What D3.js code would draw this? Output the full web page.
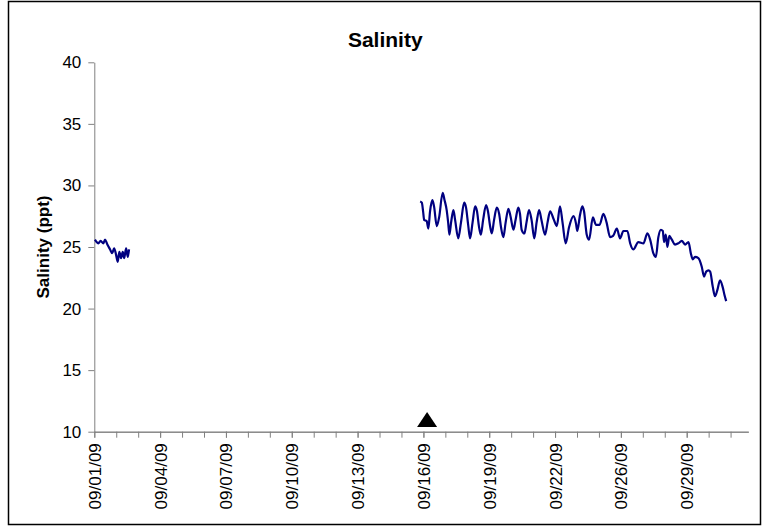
<!DOCTYPE html>
<html lang="en">
<head>
  <meta charset="UTF-8">
  <title>Salinity</title>
  <style>
    body { margin: 0; background: #fff; }
    svg { display: block; font-family: "Liberation Sans", Arial, sans-serif; }
    .axis path, .axis line { stroke: #808080; }
    .axis text { fill: #000; font-size: 17px; }
  </style>
</head>
<body>
  <div id="chart"></div>

  <script src="https://d3js.org/d3.v7.min.js"></script>
  <script>

    // days since 09/01/09 00:00, salinity in ppt
    const firstDays = [0.03, 0.11, 0.19, 0.30, 0.43, 0.51, 0.62, 0.75, 0.85, 0.94, 1.03, 1.11, 1.19, 1.27, 1.35, 1.42, 1.51, 1.59, 1.65];
    const firstSal  = [25.6, 25.4, 25.3, 25.5, 25.3, 25.6, 25.2, 24.8, 24.5, 24.9, 24.4, 23.8, 24.6, 24.1, 24.6, 24.1, 24.9, 24.2, 24.8];

    const secondDays = [
      15.47, 15.55, 15.61, 15.66, 15.78, 15.86, 15.94, 16.05, 16.13, 16.26,
      16.37, 16.54, 16.63, 16.73, 16.80, 16.86, 16.94, 17.05, 17.13, 17.28,
      17.41, 17.56, 17.65, 17.75, 17.84, 17.96, 18.08, 18.17, 18.26, 18.35,
      18.46, 18.60, 18.69, 18.79, 18.87, 18.98, 19.11, 19.22, 19.31, 19.42,
      19.53, 19.66, 19.76, 19.90, 20.00, 20.13, 20.21, 20.29, 20.42, 20.52,
      20.64, 20.76, 20.89, 21.00, 21.12, 21.23, 21.40, 21.52, 21.64, 21.80,
      21.96, 22.11, 22.23, 22.38, 22.54, 22.75, 22.87, 22.93, 23.06, 23.17,
      23.25, 23.38, 23.49, 23.67, 23.82, 23.99, 24.17, 24.32, 24.49, 24.63,
      24.81, 24.96, 25.12, 25.20, 25.31, 25.44, 25.59, 25.83, 26.07, 26.26,
      26.39, 26.54, 26.66, 26.78, 26.90, 26.99, 27.05, 27.13, 27.21, 27.30,
      27.42, 27.57, 27.73, 27.89, 28.05, 28.21, 28.32, 28.41, 28.52, 28.68,
      28.84, 28.95, 29.05, 29.16, 29.24, 29.36, 29.47, 29.58, 29.71, 29.84,
      29.92, 30.00
    ];
    const secondSal = [
      28.7, 28.6, 27.9, 27.2, 27.1, 26.5, 27.9, 28.8, 28.3, 26.7,
      27.4, 29.4, 28.8, 28.0, 27.0, 26.0, 27.0, 28.0, 27.2, 25.7,
      27.0, 28.6, 28.2, 26.8, 25.7, 27.0, 28.3, 27.9, 26.7, 26.0,
      27.2, 28.4, 27.9, 26.7, 26.1, 27.2, 28.2, 27.7, 26.6, 25.8,
      27.0, 28.1, 27.5, 26.4, 27.2, 28.2, 27.7, 26.4, 26.1, 27.0,
      28.0, 27.2, 25.7, 27.0, 28.0, 27.2, 26.0, 27.0, 27.9, 27.3,
      26.7, 28.3, 27.0, 25.3, 26.6, 27.5, 26.9, 26.3, 27.6, 28.3,
      27.9, 26.0, 25.6, 27.4, 26.8, 26.8, 27.7, 27.0, 25.8, 25.9,
      26.5, 25.7, 26.3, 26.3, 26.3, 25.3, 24.8, 25.4, 25.3, 26.1,
      25.6, 24.5, 24.2, 25.8, 26.4, 26.3, 25.4, 26.0, 25.0, 25.9,
      25.6, 25.2, 25.3, 25.5, 25.2, 25.4, 24.5, 24.0, 24.2, 24.1,
      23.4, 22.6, 23.0, 23.1, 23.0, 21.8, 21.0, 21.5, 22.3, 21.7,
      21.1, 20.6
    ];

    // x axis: major unit 3.125 days, 3 minor per major
    const majorUnit = 3.125;
    const tickLabels = ["09/01/09", "09/04/09", "09/07/09", "09/10/09", "09/13/09",
                        "09/16/09", "09/19/09", "09/22/09", "09/26/09", "09/29/09"];
    const yTicks = [10, 15, 20, 25, 30, 35, 40];

    // triangle marker near the axis
    const markerDays = [15.8];
    const markerSal  = [11.0];

    const width = 767,
          height = 527;

    const svg = d3.select("#chart")
      .append("svg")
      .attr("width", width)
      .attr("height", height);

    // chart frame
    svg.append("rect")
      .attr("x", 8.5).attr("y", 1.5)
      .attr("width", 752).attr("height", 523)
      .attr("fill", "#fff")
      .attr("stroke", "#000")
      .attr("stroke-width", 1.5);

    const x = d3.scaleLinear([0, 31.05], [94.3, 748.3]);
    const y = d3.scaleLinear([10, 40], [431.7, 62.3]);

    // minor ticks
    const minorVals = d3.range(0, 31.05, majorUnit / 3);
    svg.append("g")
      .attr("class", "axis")
      .attr("transform", `translate(0,${y(10)})`)
      .call(d3.axisBottom(x).tickValues(minorVals).tickFormat("").tickSize(6).tickSizeOuter(0));

    const xAxis = svg.append("g")
      .attr("class", "axis")
      .attr("transform", `translate(0,${y(10)})`)
      .call(d3.axisBottom(x)
        .tickValues(tickLabels.map((d, i) => i * majorUnit))
        .tickFormat((d, i) => tickLabels[i])
        .tickSize(6).tickSizeOuter(0));

    xAxis.selectAll("text")
      .attr("transform", "rotate(-90)")
      .attr("text-anchor", "end")
      .attr("x", -11.5)
      .attr("y", 0)
      .attr("dy", "0.35em");

    svg.append("g")
      .attr("class", "axis")
      .attr("transform", `translate(${x(0)},0)`)
      .call(d3.axisLeft(y).tickValues(yTicks).tickSize(6).tickSizeOuter(0).tickPadding(7));

    const line = d3.line()
      .x(d => x(d[0]))
      .y(d => y(d[1]))
      .curve(d3.curveMonotoneX);

    [[firstDays, firstSal], [secondDays, secondSal]].forEach(([days, sal]) => {
      svg.append("path")
        .datum(days.map((d, i) => [d, sal[i]]))
        .attr("fill", "none")
        .attr("stroke", "#000080")
        .attr("stroke-width", 2.2)
        .attr("stroke-linejoin", "round")
        .attr("d", line);
    });

    svg.selectAll(".marker")
      .data(markerDays)
      .join("path")
      .attr("class", "marker")
      .attr("transform", (d, i) => `translate(${x(d)},${y(markerSal[i])})`)
      .attr("d", "M-10,7.5L10,7.5L0,-7.5Z")
      .attr("fill", "#000");

    svg.append("text")
      .attr("x", 385.3)
      .attr("y", 46.7)
      .attr("text-anchor", "middle")
      .attr("font-size", 21)
      .attr("font-weight", "bold")
      .text("Salinity");

    svg.append("text")
      .attr("transform", `translate(48.7,${(y(10) + y(40)) / 2}) rotate(-90)`)
      .attr("text-anchor", "middle")
      .attr("font-size", 17)
      .attr("font-weight", "bold")
      .text("Salinity (ppt)");

  </script>
</body>
</html>
